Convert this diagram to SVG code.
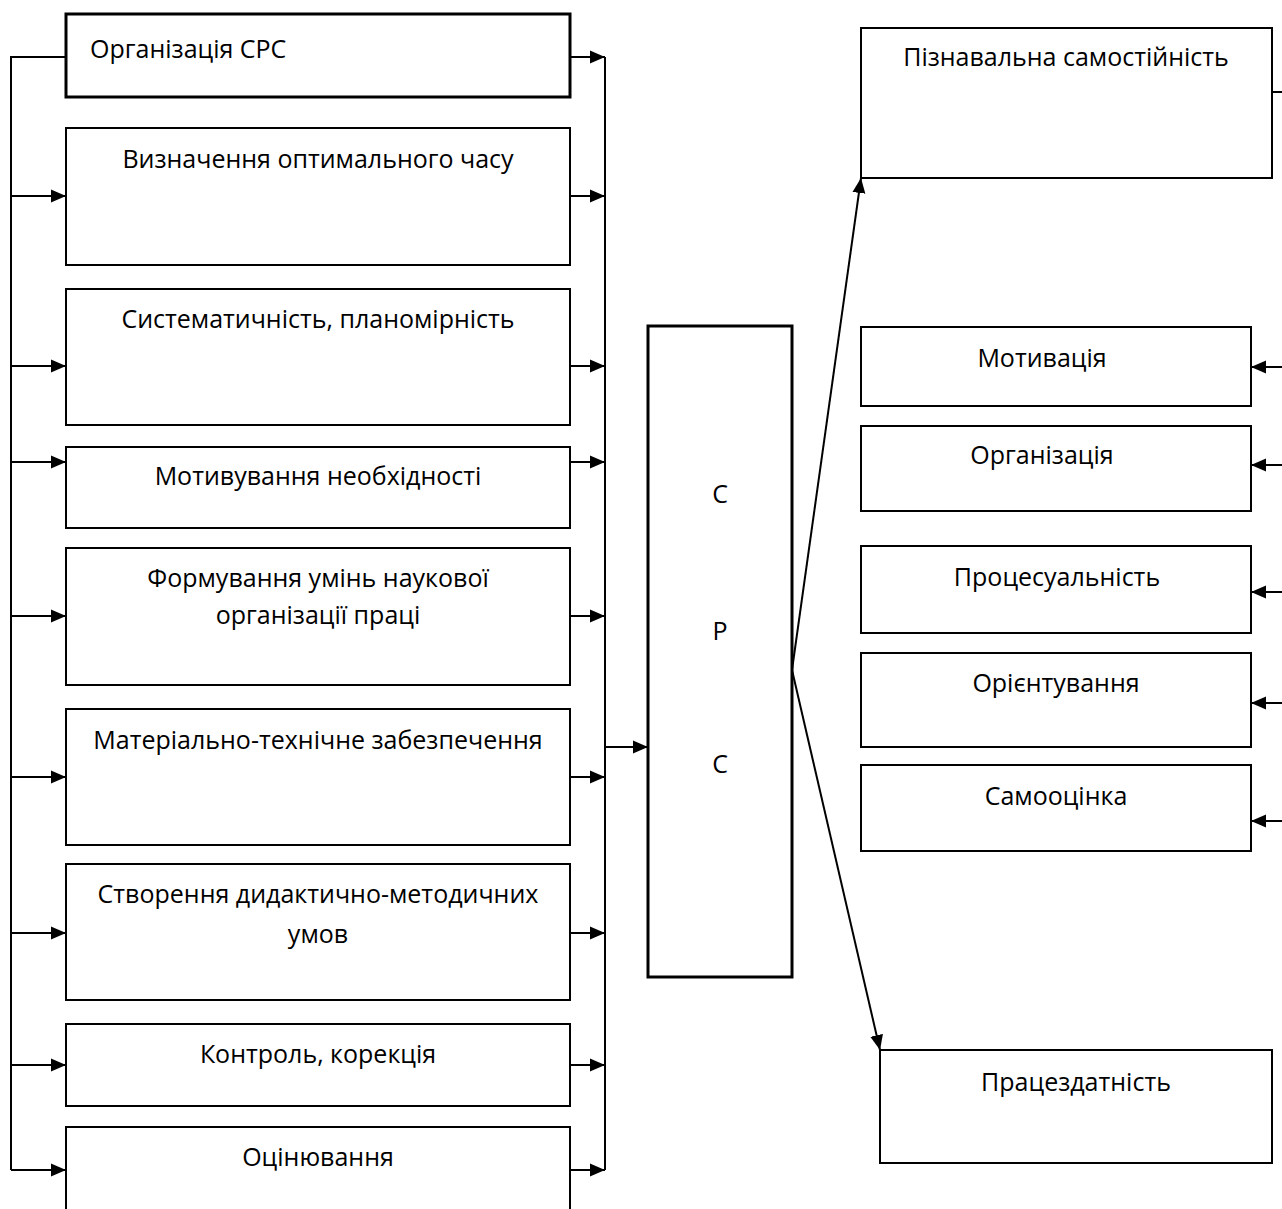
<svg xmlns="http://www.w3.org/2000/svg" width="1282" height="1209" viewBox="0 0 1282 1209">
<defs>
<marker id="ah" markerUnits="userSpaceOnUse" markerWidth="16" markerHeight="16" viewBox="0 0 16 16" refX="15" refY="8" orient="auto">
<path d="M0,1.5 L15,8 L0,14.5 Z" fill="#000"/>
</marker>
</defs>
<style>
.box{fill:#fff;stroke:#000;stroke-width:2}
.thick{fill:#fff;stroke:#000;stroke-width:3}
.t{font-family:"Open Sans","Liberation Sans",sans-serif;font-size:25px;fill:#000;text-anchor:middle}
.tl{text-anchor:start}
.ln{stroke:#000;stroke-width:2;fill:none}
.ar{stroke:#000;stroke-width:2;fill:none;marker-end:url(#ah)}
</style>
<rect width="1282" height="1209" fill="#fff"/>
<g id="connectors">
<path class="ln" d="M66,57 H11 V1170"/>
<path class="ar" d="M11,196 H66"/>
<path class="ar" d="M11,366 H66"/>
<path class="ar" d="M11,462 H66"/>
<path class="ar" d="M11,616 H66"/>
<path class="ar" d="M11,777 H66"/>
<path class="ar" d="M11,933 H66"/>
<path class="ar" d="M11,1065 H66"/>
<path class="ar" d="M11,1170 H66"/>
<path class="ln" d="M605,57 V1170"/>
<path class="ar" d="M570,57 H605"/>
<path class="ar" d="M570,196 H605"/>
<path class="ar" d="M570,366 H605"/>
<path class="ar" d="M570,462 H605"/>
<path class="ar" d="M570,616 H605"/>
<path class="ar" d="M570,777 H605"/>
<path class="ar" d="M570,933 H605"/>
<path class="ar" d="M570,1065 H605"/>
<path class="ar" d="M570,1170 H605"/>
<path class="ar" d="M605,747 H648"/>
<path class="ar" d="M792,670 L861,178"/>
<path class="ar" d="M792,670 L880,1050"/>
<path class="ln" d="M1272,92 H1282"/>
<path class="ar" d="M1282,367 H1251"/>
<path class="ar" d="M1282,465 H1251"/>
<path class="ar" d="M1282,592 H1251"/>
<path class="ar" d="M1282,703 H1251"/>
<path class="ar" d="M1282,821 H1251"/>
</g>
<g id="n1"><rect class="thick" x="66" y="14" width="504" height="83"/><text class="t tl" x="90" y="58">Організація СРС</text></g>
<g id="n2"><rect class="box" x="66" y="128" width="504" height="137"/><text class="t" x="318" y="168">Визначення оптимального часу</text></g>
<g id="n3"><rect class="box" x="66" y="289" width="504" height="136"/><text class="t" x="318" y="328">Систематичність, планомірність</text></g>
<g id="n4"><rect class="box" x="66" y="447" width="504" height="81"/><text class="t" x="318" y="485">Мотивування необхідності</text></g>
<g id="n5"><rect class="box" x="66" y="548" width="504" height="137"/><text class="t" x="318" y="587">Формування умінь наукової</text><text class="t" x="318" y="624">організації праці</text></g>
<g id="n6"><rect class="box" x="66" y="709" width="504" height="136"/><text class="t" x="318" y="749">Матеріально-технічне забезпечення</text></g>
<g id="n7"><rect class="box" x="66" y="864" width="504" height="136"/><text class="t" x="318" y="903">Створення дидактично-методичних</text><text class="t" x="318" y="943">умов</text></g>
<g id="n8"><rect class="box" x="66" y="1024" width="504" height="82"/><text class="t" x="318" y="1063">Контроль, корекція</text></g>
<g id="n9"><rect class="box" x="66" y="1127" width="504" height="100"/><text class="t" x="318" y="1166">Оцінювання</text></g>
<g id="crs"><rect class="thick" x="648" y="326" width="144" height="651"/><text class="t" x="720" y="503">С</text><text class="t" x="720" y="640">Р</text><text class="t" x="720" y="773">С</text></g>
<g id="r1"><rect class="box" x="861" y="28" width="411" height="150"/><text class="t" x="1066" y="66">Пізнавальна самостійність</text></g>
<g id="r2"><rect class="box" x="861" y="327" width="390" height="79"/><text class="t" x="1042" y="367">Мотивація</text></g>
<g id="r3"><rect class="box" x="861" y="426" width="390" height="85"/><text class="t" x="1042" y="464">Організація</text></g>
<g id="r4"><rect class="box" x="861" y="546" width="390" height="87"/><text class="t" x="1057" y="586">Процесуальність</text></g>
<g id="r5"><rect class="box" x="861" y="653" width="390" height="94"/><text class="t" x="1056" y="692">Орієнтування</text></g>
<g id="r6"><rect class="box" x="861" y="765" width="390" height="86"/><text class="t" x="1056" y="805">Самооцінка</text></g>
<g id="r7"><rect class="box" x="880" y="1050" width="392" height="113"/><text class="t" x="1076" y="1091">Працездатність</text></g>
</svg>
